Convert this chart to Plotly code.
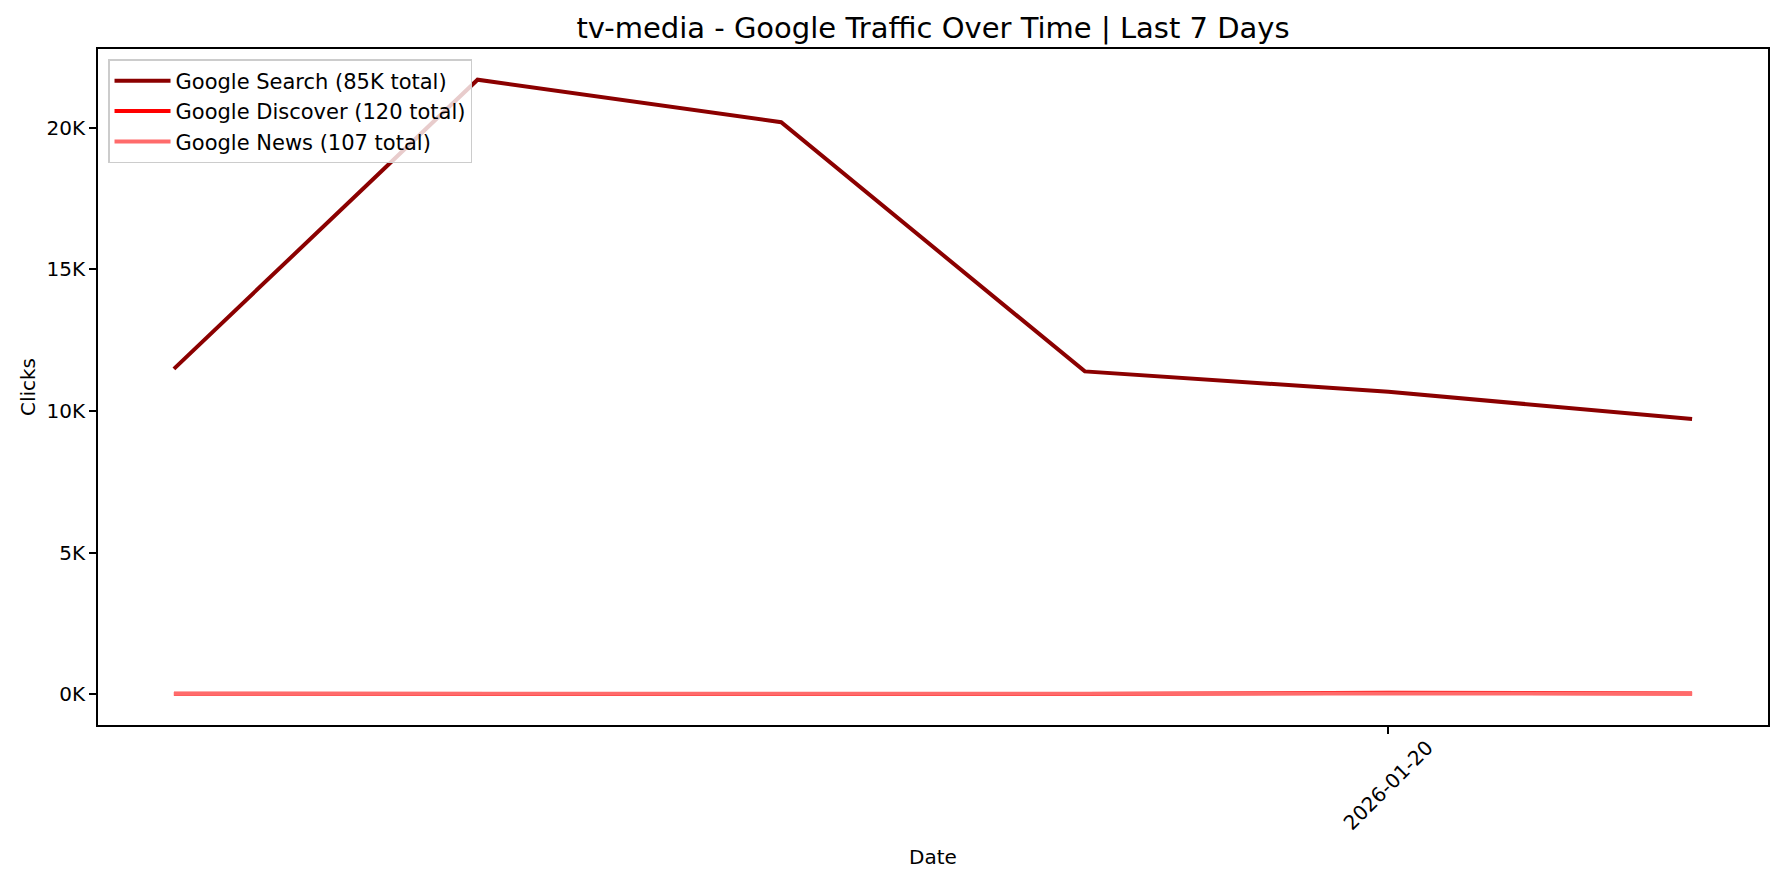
import plotly.graph_objs as go


dates = ['2026-01-16', '2026-01-17', '2026-01-18', '2026-01-19', '2026-01-20', '2026-01-21']
search = [11490, 21700, 20200, 11400, 10680, 9720]
discover = [15, 5, 10, 10, 55, 25]
news = [20, 10, 12, 15, 30, 20]

series_names = ['Google Search (85K total)', 'Google Discover (120 total)', 'Google News (107 total)']
series_colors = ['#8B0000', '#FF0000', '#FF6B6B']

ytick_vals = [0, 5000, 10000, 15000, 20000]
ytick_text = ['0K', '5K', '10K', '15K', '20K']
xtick_vals = ['2026-01-20']

font = 'DejaVu Sans'

fig = go.Figure()

for name, ys, color in zip(series_names, [search, discover, news], series_colors):
    fig.add_trace(
        go.Scatter(
            x=dates, y=ys, mode='lines', name=name,
            line=dict(color=color, width=4),
        ))

# matplotlib-style centered, rotated tick label
for d in xtick_vals:
    fig.add_annotation(
        x=d, xref='x', y=0, yref='paper', yshift=-60,
        text=d, textangle=-45, showarrow=False,
        xanchor='center', yanchor='middle',
        font=dict(family=font, size=20, color='black'),
    )

fig.update_layout(
    width=1784, height=883,
    margin=dict(l=98, r=16, t=49, b=158),
    paper_bgcolor='white', plot_bgcolor='white',
    font=dict(family=font, size=20, color='black'),
    title=dict(
        text='tv-media - Google Traffic Over Time | Last 7 Days',
        x=0.5, xref='paper', xanchor='center',
        y=1 - 28 / 883, yanchor='middle',
        font=dict(size=29),
    ),
    legend=dict(
        x=0.006, y=0.985, xanchor='left', yanchor='top',
        bordercolor='#cccccc', borderwidth=1.5,
        bgcolor='rgba(255,255,255,0.8)',
        itemwidth=56,
        font=dict(size=21),
    ),
    xaxis=dict(
        type='date',
        range=['2026-01-15 18:00', '2026-01-21 06:00'],
        tickvals=xtick_vals, showticklabels=False,
        ticks='outside', ticklen=7, tickwidth=1.6, tickcolor='black',
        showline=True, linecolor='black', linewidth=1.6, mirror=True,
        showgrid=False, zeroline=False,
        title=dict(text='Date', standoff=117, font=dict(size=20)),
    ),
    yaxis=dict(
        range=[-1085, 22785],
        tickvals=ytick_vals, ticktext=ytick_text,
        ticks='outside', ticklen=7, tickwidth=1.6, tickcolor='black',
        showline=True, linecolor='black', linewidth=1.6, mirror=True,
        showgrid=False, zeroline=False,
        title=dict(text='Clicks', standoff=6, font=dict(size=20)),
    ),
)

fig.write_html('out.html', config={'displayModeBar': False},
               post_script="document.body.style.margin='0';")
